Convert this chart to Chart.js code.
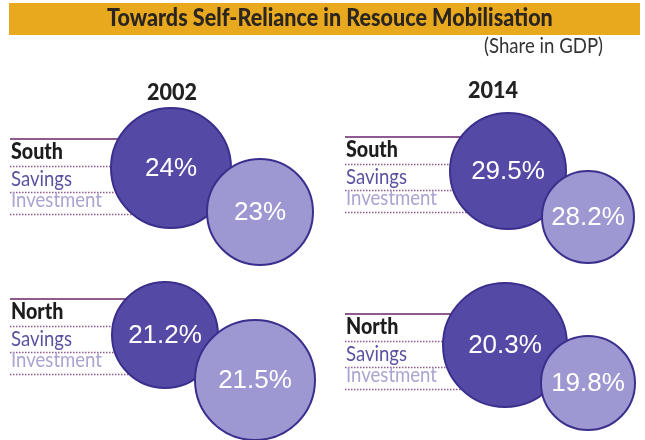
<!DOCTYPE html>
<html>
<head>
<meta charset="utf-8">
<script src="https://cdn.jsdelivr.net/npm/chart.js@4/dist/chart.umd.min.js"></script>
<style>
    html, body { margin: 0; padding: 0; background: #ffffff; }
    #wrap { width: 645px; height: 440px; }
</style>
</head>
<body>
<div id="wrap"><canvas id="bubbleChart" width="645" height="440"></canvas></div>
<script>
// Data (share in GDP, %)
const years = ['2002', '2014'];
const regions = ['South', 'North'];
const seriesNames = ['Savings', 'Investment'];
const savingsSouth = [24, 29.5];
const investmentSouth = [23, 28.2];
const savingsNorth = [21.2, 20.3];
const investmentNorth = [21.5, 19.8];

const titleText = 'Towards Self-Reliance in Resouce Mobilisation';
const subtitleText = '(Share in GDP)';

// Layout of each panel (canvas units, 645x440), [year][region]
const panelLayout = [
    [
        { labelX: 10, lineY: 139, sav: [171, 168, 60], inv: [260, 212, 53] },
        { labelX: 10, lineY: 299, sav: [165, 335, 53], inv: [255, 380, 60] }
    ],
    [
        { labelX: 345, lineY: 137, sav: [508, 171, 58], inv: [588, 217, 46] },
        { labelX: 345, lineY: 314, sav: [505, 345, 62], inv: [588, 383, 47] }
    ]
];
const yearLabelPos = [[172, 100], [493, 98]];

const colors = {
    bar: '#e8a91f',
    title: '#2b2520',
    savFill: '#5549a6',
    invFill: '#9d98d1',
    border: '#3a2f8c',
    rule: '#8f5a8e',
    region: '#1c1c1c',
    savText: '#5a52a0',
    invText: '#a9a4d1'
};

const labelFont = 'Lato, "Open Sans", sans-serif';
const pctFont = '"Liberation Sans", Arial, sans-serif';

// build bubble points from the arrays
const savValues = [savingsSouth, savingsNorth];
const invValues = [investmentSouth, investmentNorth];
const savPoints = [];
const invPoints = [];
years.forEach((year, yi) => {
    regions.forEach((region, ri) => {
        const lay = panelLayout[yi][ri];
        savPoints.push({ x: lay.sav[0], y: lay.sav[1], r: lay.sav[2], v: savValues[ri][yi], lay: lay, region: region });
        invPoints.push({ x: lay.inv[0], y: lay.inv[1], r: lay.inv[2], v: invValues[ri][yi], lay: lay, region: region });
    });
});

// fit a font size so text fills a given width
function fitFont(ctx, text, width, weight, family) {
    ctx.font = weight + ' 20px ' + family;
    const w = ctx.measureText(text).width;
    return weight + ' ' + (20 * width / w).toFixed(2) + 'px ' + family;
}

// text stretched a bit taller (the original face is a tall geometric one)
function tallText(ctx, text, x, y, stretch) {
    ctx.save();
    ctx.translate(x, y);
    ctx.scale(1, stretch);
    ctx.fillText(text, 0, 0);
    ctx.restore();
}

const decorPlugin = {
    id: 'decor',
    beforeDatasetsDraw(chart) {
        const ctx = chart.ctx;
        const xs = chart.scales.x;
        const ys = chart.scales.y;
        const px = v => xs.getPixelForValue(v);
        const py = v => ys.getPixelForValue(v);
        ctx.save();

        // title bar
        ctx.fillStyle = colors.bar;
        ctx.fillRect(px(9), py(3), px(640) - px(9), py(35) - py(3));
        ctx.fillStyle = colors.title;
        ctx.textAlign = 'left';
        ctx.textBaseline = 'alphabetic';
        ctx.font = fitFont(ctx, titleText, 446, '900', labelFont);
        tallText(ctx, titleText, px(107), py(26), 1.1);

        ctx.fillStyle = '#333333';
        ctx.font = fitFont(ctx, subtitleText, 119, 'normal', labelFont);
        tallText(ctx, subtitleText, px(484), py(53), 1.12);

        // year headings
        ctx.fillStyle = '#222222';
        ctx.textAlign = 'center';
        ctx.font = fitFont(ctx, '2002', 50, '900', labelFont);
        years.forEach((year, i) => {
            tallText(ctx, year, px(yearLabelPos[i][0]), py(yearLabelPos[i][1]), 1.05);
        });

        // label blocks with rules running under the bubbles
        savPoints.forEach(p => {
            const lay = p.lay;
            const x0 = px(lay.labelX);
            const y0 = py(lay.lineY);
            const xEnd = px(p.x);

            ctx.strokeStyle = colors.rule;
            ctx.lineWidth = 2;
            ctx.setLineDash([]);
            ctx.beginPath();
            ctx.moveTo(x0, y0);
            ctx.lineTo(xEnd, y0);
            ctx.stroke();

            ctx.lineWidth = 1.5;
            ctx.setLineDash([1.5, 1.5]);
            [27, 53, 75].forEach(dy => {
                ctx.beginPath();
                ctx.moveTo(x0, y0 + dy + 0.5);
                ctx.lineTo(xEnd, y0 + dy + 0.5);
                ctx.stroke();
            });
            ctx.setLineDash([]);

            ctx.textAlign = 'left';
            ctx.fillStyle = colors.region;
            ctx.font = fitFont(ctx, 'South', 52, '900', labelFont);
            tallText(ctx, p.region, x0 + 1, y0 + 20, 1.15);
            ctx.font = fitFont(ctx, 'Investment', 91, 'normal', labelFont);
            ctx.fillStyle = colors.savText;
            tallText(ctx, seriesNames[0], x0 + 1, y0 + 47, 1.18);
            ctx.fillStyle = colors.invText;
            tallText(ctx, seriesNames[1], x0 + 1, y0 + 68, 1.18);
        });
        ctx.restore();
    },
    afterDatasetsDraw(chart) {
        const ctx = chart.ctx;
        ctx.save();
        ctx.fillStyle = '#ffffff';
        ctx.textAlign = 'center';
        ctx.textBaseline = 'middle';
        ctx.font = '26px ' + pctFont;
        chart.data.datasets.forEach((ds, di) => {
            const meta = chart.getDatasetMeta(di);
            meta.data.forEach((el, i) => {
                ctx.fillText(ds.data[i].v + '%', el.x, el.y + 1);
            });
        });
        ctx.restore();
    }
};

const ctx = document.getElementById('bubbleChart').getContext('2d');
const bubbleChart = new Chart(ctx, {
    type: 'bubble',
    data: {
        datasets: [
            {
                label: seriesNames[0],
                data: savPoints,
                backgroundColor: colors.savFill,
                borderColor: colors.border,
                borderWidth: 2,
                clip: false,
                order: 1
            },
            {
                label: seriesNames[1],
                data: invPoints,
                backgroundColor: colors.invFill,
                borderColor: colors.border,
                borderWidth: 2,
                clip: false,
                order: 0
            }
        ]
    },
    options: {
        responsive: false,
        animation: false,
        layout: { padding: 0, autoPadding: false },
        plugins: {
            legend: { display: false },
            tooltip: { enabled: false }
        },
        elements: { point: { hoverRadius: 0 } },
        scales: {
            x: { type: 'linear', min: 0, max: 645, display: false },
            y: { type: 'linear', min: 0, max: 440, reverse: true, display: false }
        }
    },
    plugins: [decorPlugin]
});
</script>
</body>
</html>
